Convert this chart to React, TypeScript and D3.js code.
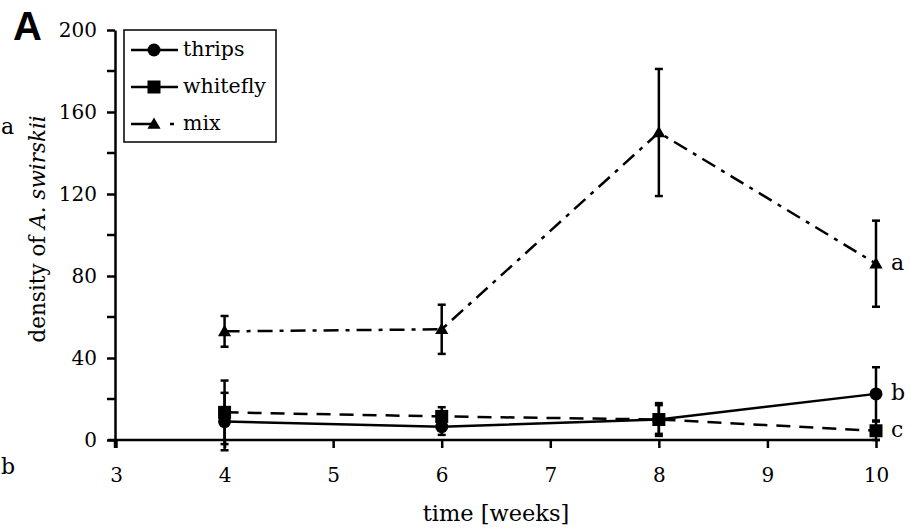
import React, { useEffect, useRef } from "react";
import * as d3 from "d3";

// weeks sampled
const weeks = [4, 6, 8, 10];

// mean density and error (SE) per series
const thripsMean = [9, 6.5, 10, 22.5];
const thripsErr = [14, 4, 7, 13];
const whiteflyMean = [13.5, 11.5, 10, 4.5];
const whiteflyErr = [15.5, 4.5, 8, 4.5];
const mixMean = [53, 54, 150, 86];
const mixErr = [7.5, 12, 31, 21];

const yTicks = [0, 40, 80, 120, 160, 200];
const yMinorTicks = [20, 60, 100, 140, 180];
const xTicks = [3, 4, 5, 6, 7, 8, 9, 10];

// significance letters at week 10
const seriesLetters = ["b", "c", "a"];

const FONT = "'DejaVu Serif', 'Liberation Serif', serif";

const App = () => {
  const svgRef = useRef<SVGSVGElement>(null);

  useEffect(() => {
    const width = 911;
    const height = 529;
    const svg = d3.select(svgRef.current);
    svg.selectAll("*").remove();
    svg.attr("width", width).attr("height", height).style("font-family", FONT);

    const x = d3.scaleLinear().domain([3, 10]).range([116, 876]);
    const y = d3.scaleLinear().domain([0, 200]).range([440, 30]);

    const series = [
      { name: "thrips", mean: thripsMean, err: thripsErr, dash: null, marker: "circle" },
      { name: "whitefly", mean: whiteflyMean, err: whiteflyErr, dash: "14,9", marker: "square" },
      { name: "mix", mean: mixMean, err: mixErr, dash: "15,7,4,7", marker: "triangle" },
    ];

    // axes
    const yAxis = d3
      .axisLeft(y)
      .tickValues(yTicks)
      .tickSize(8)
      .tickPadding(10)
      .tickSizeOuter(0);
    const gy = svg.append("g").attr("transform", `translate(${x(3) - 1},0)`).call(yAxis);
    gy.attr("font-family", FONT).attr("font-size", 20);
    gy.select(".domain").attr("stroke-width", 2.5);
    gy.selectAll(".tick line").attr("stroke-width", 2.5);
    gy.selectAll(".minor")
      .data(yMinorTicks)
      .join("line")
      .attr("x1", -8)
      .attr("x2", 0)
      .attr("y1", (d) => y(d))
      .attr("y2", (d) => y(d))
      .attr("stroke", "#000")
      .attr("stroke-width", 2.5);
    gy.append("line")
      .attr("x1", 0)
      .attr("x2", 0)
      .attr("y1", y(0))
      .attr("y2", y(0) + 8)
      .attr("stroke", "#000")
      .attr("stroke-width", 2.5);

    const xAxis = d3
      .axisBottom(x)
      .tickValues(xTicks)
      .tickSize(8)
      .tickPadding(20)
      .tickSizeOuter(0)
      .tickFormat(d3.format("d"));
    const gx = svg.append("g").attr("transform", `translate(0,${y(0)})`).call(xAxis);
    gx.attr("font-family", FONT).attr("font-size", 20);
    gx.select(".domain").attr("d", `M${x(3) - 8},0H${x(10) + 4}`).attr("stroke-width", 2.5);
    gx.selectAll(".tick line").attr("stroke-width", 2.5);

    // axis titles
    svg
      .append("text")
      .attr("x", 496)
      .attr("y", 521)
      .attr("text-anchor", "middle")
      .attr("font-size", 22.5)
      .text("time [weeks]");

    const yl = svg
      .append("text")
      .attr("transform", `translate(45,${y(103)}) rotate(-90)`)
      .attr("text-anchor", "middle")
      .attr("font-size", 21.5);
    yl.append("tspan").text("density of ");
    yl.append("tspan").style("font-style", "italic").text("A. swirskii");

    // panel letter and stray letters from the neighbouring panel
    svg
      .append("text")
      .attr("x", 13)
      .attr("y", 40)
      .style("font-family", "'Liberation Sans', Arial, sans-serif")
      .style("font-weight", "bold")
      .attr("font-size", 40)
      .text("A");
    svg.append("text").attr("x", 1).attr("y", 134).attr("font-size", 22).text("a");
    svg.append("text").attr("x", 1).attr("y", 474).attr("font-size", 22).text("b");

    const drawMarker = (g: any, type: string, cx: number, cy: number) => {
      if (type === "circle") {
        g.append("circle").attr("cx", cx).attr("cy", cy).attr("r", 6.5).attr("fill", "#000");
      } else if (type === "square") {
        g.append("rect")
          .attr("x", cx - 6.5)
          .attr("y", cy - 6.5)
          .attr("width", 13)
          .attr("height", 13)
          .attr("fill", "#000");
      } else {
        const s = d3.symbol().type(d3.symbolTriangle).size(75);
        g.append("path").attr("transform", `translate(${cx},${cy + 1})`).attr("d", s()).attr("fill", "#000");
      }
    };

    const line = d3
      .line<number>()
      .x((_, i) => x(weeks[i]))
      .y((d) => y(d));

    const plot = svg.append("g");
    series.forEach((s) => {
      const g = plot.append("g");
      // error bars
      s.mean.forEach((m, i) => {
        const cx = x(weeks[i]);
        const top = y(m + s.err[i]);
        const bot = y(m - s.err[i]);
        g.append("line").attr("x1", cx).attr("x2", cx).attr("y1", top).attr("y2", bot).attr("stroke", "#000").attr("stroke-width", 2.5);
        [top, bot].forEach((v) =>
          g.append("line").attr("x1", cx - 4).attr("x2", cx + 4).attr("y1", v).attr("y2", v).attr("stroke", "#000").attr("stroke-width", 2.5)
        );
      });
      g.append("path")
        .attr("d", line(s.mean))
        .attr("fill", "none")
        .attr("stroke", "#000")
        .attr("stroke-width", 2.5)
        .attr("stroke-dasharray", s.dash);
      s.mean.forEach((m, i) => drawMarker(g, s.marker, x(weeks[i]), y(m)));
    });

    // significance letters
    series.forEach((s, k) => {
      svg
        .append("text")
        .attr("x", x(10) + 15)
        .attr("y", y(s.mean[3]) + 6)
        .attr("font-size", 22)
        .text(seriesLetters[k]);
    });

    // legend
    const lg = svg.append("g");
    lg.append("rect")
      .attr("x", 124)
      .attr("y", 30)
      .attr("width", 152)
      .attr("height", 112)
      .attr("fill", "#fff")
      .attr("stroke", "#000")
      .attr("stroke-width", 1.5);
    series.forEach((s, k) => {
      const ly = 50 + k * 37;
      const seg = (x1: number, x2: number) =>
        lg.append("line")
          .attr("x1", x1)
          .attr("x2", x2)
          .attr("y1", ly)
          .attr("y2", ly)
          .attr("stroke", "#000")
          .attr("stroke-width", 2.5);
      if (s.name === "mix") {
        seg(131, 152);
        seg(170, 174);
      } else {
        seg(131, 178);
      }
      drawMarker(lg, s.marker, 154, ly);
      lg.append("text")
        .attr("x", 183)
        .attr("y", ly + 6)
        .attr("font-size", 20.5)
        .text(s.name);
    });
  }, []);

  return <svg ref={svgRef} style={{ display: "block", position: "absolute", left: 0, top: 0 }} />;
};

export default App;
